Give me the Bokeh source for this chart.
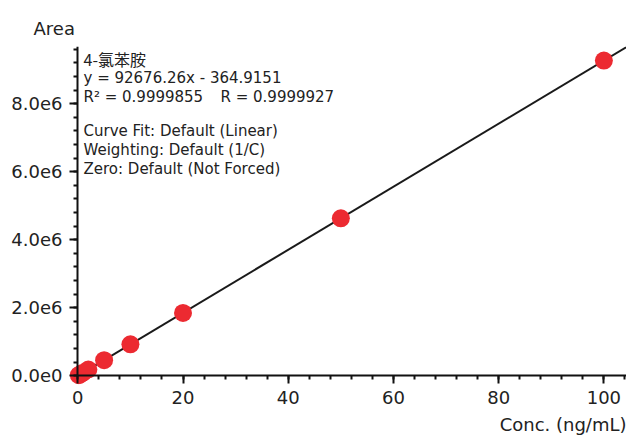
from bokeh.plotting import figure
from bokeh.models import (Label, Range1d, SingleIntervalTicker, Title, LinearAxis,
                          CustomLabelingPolicy)
from bokeh.embed import file_html
from bokeh.resources import INLINE

# ---- data ----
conc = [0.2, 0.5, 1, 2, 5, 10, 20, 50, 100]
area = [0.018e6, 0.046e6, 0.092e6, 0.185e6, 0.46e6, 0.925e6, 1.85e6, 4.63e6, 9.27e6]
slope = 92676.26
intercept = -364.9151
y_tick_values = [0, 2e6, 4e6, 6e6, 8e6]
y_tick_labels = ["0.0e0", "2.0e6", "4.0e6", "6.0e6", "8.0e6"]
info_lines = [
    "4-氯苯胺",
    "y = 92676.26x - 364.9151",
    "R² = 0.9999855",
    "R = 0.9999927",
    "Curve Fit: Default (Linear)",
    "Weighting: Default (1/C)",
    "Zero: Default (Not Forced)",
]
x_label = "Conc. (ng/mL)"
y_label = "Area"

FONT = "DejaVu Sans"
TXT = "#222222"
AX = "#111111"

# frame spans pixels x 67..626, y 46..384 (a little beyond the axes so markers are not clipped)
FL, FR, FT, FB = 67, 626, 46, 384
x0, x1 = -1.96, 104.3
y0, y1 = -0.256e6, 9.685e6

p = figure(width=626, height=439, output_backend="svg", toolbar_location=None,
           x_range=Range1d(x0, x1), y_range=Range1d(y0, y1),
           min_border_left=FL, min_border_right=0, min_border_top=FT,
           min_border_bottom=439 - FB)
p.outline_line_color = None
p.xgrid.visible = False
p.ygrid.visible = False
p.background_fill_color = "white"
p.border_fill_color = "white"

# label-only axes at the frame edges
for ax in (p.xaxis[0], p.yaxis[0]):
    ax.axis_line_color = None
    ax.major_tick_line_color = None
    ax.minor_tick_line_color = None
    ax.major_tick_in = 0
    ax.major_tick_out = 0
    ax.minor_tick_in = 0
    ax.minor_tick_out = 0
    ax.major_label_text_font = FONT
    ax.major_label_text_font_size = "18px"
    ax.major_label_text_color = TXT
p.xaxis[0].major_label_standoff = 6
p.yaxis[0].major_label_standoff = 5
p.xaxis[0].ticker = SingleIntervalTicker(interval=20, num_minor_ticks=5)
p.yaxis[0].ticker = SingleIntervalTicker(interval=2e6, num_minor_ticks=5)
p.yaxis[0].major_label_overrides = {v: s for v, s in zip(y_tick_values, y_tick_labels)}

hide_all = "const ids = [...indices]; for (const i of ids) indices.unset(i); return indices"

# line + tick axes fixed at zero (their own labels are suppressed)
def tick_axis(interval, bounds):
    a = LinearAxis(fixed_location=0, bounds=bounds,
                   ticker=SingleIntervalTicker(interval=interval, num_minor_ticks=5))
    a.axis_line_color = AX
    a.axis_line_width = 2
    a.major_tick_line_color = AX
    a.minor_tick_line_color = AX
    a.major_tick_line_width = 2
    a.minor_tick_line_width = 2
    a.major_tick_in = 0
    a.minor_tick_in = 0
    a.major_tick_out = 8
    a.minor_tick_out = 4
    a.major_label_text_font_size = "1px"
    a.major_label_text_alpha = 0
    a.major_label_standoff = 0
    a.major_label_policy = CustomLabelingPolicy(code=hide_all)
    return a

p.add_layout(tick_axis(20, (0, x1)), "below")
p.add_layout(tick_axis(2e6, (0, y1)), "left")

# axis titles
p.title.text = y_label
p.title.align = "left"
p.title.offset = 33 - FL
p.title.standoff = 15
p.title.text_font = FONT
p.title.text_font_size = "18px"
p.title.text_font_style = "normal"
p.title.text_color = TXT

p.add_layout(Title(text=x_label, align="right", text_font=FONT, text_font_size="18px",
                   text_font_style="normal", text_color=TXT, standoff=10), "below")

# fit line
fx = [0, x1]
fy = [slope * v + intercept for v in fx]
p.line(fx, fy, line_color="#1a1a1a", line_width=2)

# points
p.scatter(conc, area, size=18, fill_color="#EC2A31", line_color="#EC2A31", line_width=0)

# helper to convert pixel positions into data coords
def px_to_x(px):
    return x0 + (px - FL) * (x1 - x0) / (FR - FL)

def py_to_y(py):
    return y0 + (FB - py) * (y1 - y0) / (FB - FT)

# info block
positions = [(83, 58), (83, 77), (83, 96), (220, 96), (83, 130), (83, 149), (83, 168)]
for i, (t, (px, py)) in enumerate(zip(info_lines, positions)):
    font = "Noto Sans CJK SC" if i == 0 else FONT
    size = "16px" if i == 0 else "15px"
    p.add_layout(Label(x=px_to_x(px), y=py_to_y(py), text=t, text_font=font,
                       text_font_size=size, text_color=TXT, text_baseline="alphabetic"))

open("out.html", "w").write(file_html(p, INLINE))
